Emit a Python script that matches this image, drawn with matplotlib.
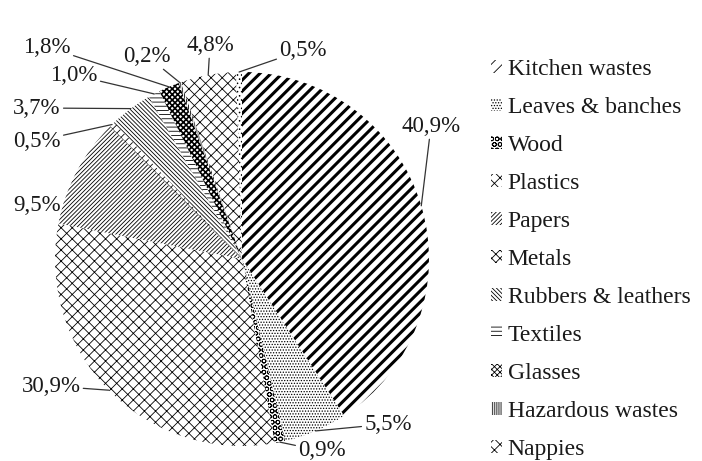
import numpy as np
import matplotlib.pyplot as plt

plt.rcParams['font.family'] = ['Liberation Serif', 'DejaVu Serif']
plt.rcParams['hatch.linewidth'] = 0.6

# data (share of waste by composition, %)
categories = ['Kitchen wastes', 'Leaves & banches', 'Wood', 'Plastics', 'Papers', 'Metals',
              'Rubbers & leathers', 'Textiles', 'Glasses', 'Hazardous wastes', 'Nappies', 'Others']
shares = [40.9, 5.5, 0.9, 30.9, 9.5, 0.5, 3.7, 1.0, 1.8, 0.2, 4.8, 0.5]
n_legend = 11  # the last legend entry falls outside the picture in the reference

# styles
hatches = ['///', '......', 'OOO', 'xxx', '////////', 'xxxx', '\\\\\\\\\\\\\\\\', '----',
           'xxxxxx', '||||||||', 'xxx', '....']
# label text centres in pixels (x, y from top)
label_pos = [(431, 126), (388, 424), (322, 451), (51, 386), (37, 205), (37, 141),
             (37, 108), (74, 75), (47, 47), (147, 56), (210, 45), (303, 50)]
leader = [True] * 12
leader[4] = False

W, H = 702, 461
fig = plt.figure(figsize=(W / 100, H / 100), dpi=100)
ax = fig.add_axes([0, 0, 1, 1])

cx, cy, r = 242, H - 259, 187
wedges, _ = ax.pie(shares, center=(cx, cy), radius=r, startangle=90, counterclock=False,
                   hatch=hatches,
                   wedgeprops=dict(facecolor='white', edgecolor='black', linewidth=0))
if hasattr(wedges[0], 'set_hatch_linewidth'):
    wedges[0].set_hatch_linewidth(2.2)
    wedges[8].set_hatch_linewidth(1.2)

ax.set_xlim(0, W)
ax.set_ylim(0, H)
ax.axis('off')

# percentage labels with leader lines
for w, v, (tx, ty), ld in zip(wedges, shares, label_pos, leader):
    ang = np.deg2rad((w.theta1 + w.theta2) / 2)
    ex, ey = cx + r * np.cos(ang), cy + r * np.sin(ang)
    txt = f'{v:.1f}%'.replace('.', ',')
    ax.annotate(txt, xy=(ex, ey), xytext=(tx, H - ty), ha='center', va='center',
                fontsize=16.5, color='#1a1a1a', annotation_clip=False,
                arrowprops=dict(arrowstyle='-', lw=0.9, color='#333333',
                                shrinkA=0, shrinkB=0) if ld else None)

ax.legend(wedges[:n_legend], categories[:n_legend], loc='upper left',
          bbox_to_anchor=(491 / W, 1 - 59 / H),
          frameon=False, fontsize=17, handlelength=0.45, handleheight=0.45,
          handletextpad=0.25, labelspacing=0.72, borderpad=0, borderaxespad=0,
          labelcolor='#1a1a1a')

fig.savefig('out.png', dpi=100)
